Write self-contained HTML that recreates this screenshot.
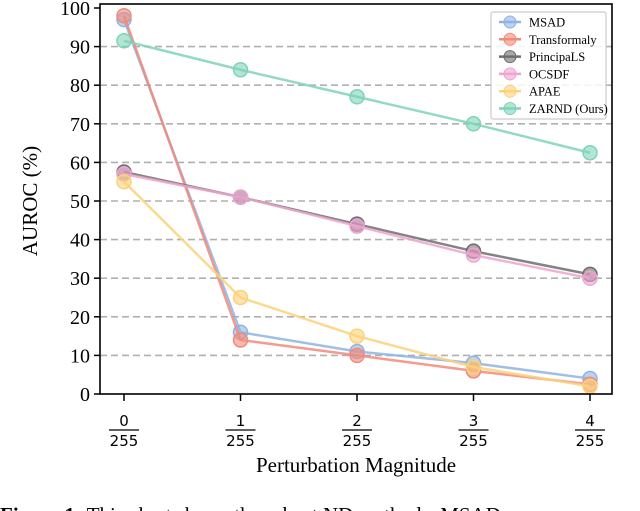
<!DOCTYPE html>
<html><head><meta charset="utf-8"><style>
body{margin:0;background:#fff;width:640px;height:511px;overflow:hidden}
svg{display:block;font-family:"Liberation Serif",serif}
</style></head><body>
<svg id="chart" width="640" height="511" viewBox="0 0 640 511">
<g id="grid"></g><g id="series"></g><g id="axes"></g><g id="legend"></g>
<text x="356" y="472" font-size="21" text-anchor="middle">Perturbation Magnitude</text>
<text transform="translate(37,201) rotate(-90)" font-size="21" text-anchor="middle">AUROC (%)</text>
<text x="0" y="522" font-size="21"><tspan font-weight="bold">Figure 1:</tspan>  This chart shows the robust ND methods. MSAD</text>
</svg>
<script>
const categories=[0,1,2,3,4];
const seriesNames=["MSAD","Transformaly","PrincipaLS","OCSDF","APAE","ZARND (Ours)"];
const colors=["#8fb4e3","#f28a7a","#6e6e6e","#eea4d0","#fcd27a","#7fd3b7"];
const msad=[97,16,11,8,4];
const transformaly=[98,14,10,6,2.5];
const principals=[57.5,51,44,37,31];
const ocsdf=[57,51,43.5,36,30];
const apae=[55,25,15,7,2];
const zarnd=[91.5,84,77,70,62.5];
const yTicks=[0,10,20,30,40,50,60,70,80,90,100];
const allSeries=[msad,transformaly,principals,ocsdf,apae,zarnd];
const NS="http://www.w3.org/2000/svg";
const L=100,R=612,T=8,B=394;
const x=i=>124+i*(590-124)/4;
const y=v=>B-(v/100)*(B-T);
function mk(tag,attrs,parent){const e=document.createElementNS(NS,tag);for(const k in attrs)e.setAttribute(k,attrs[k]);parent.appendChild(e);return e;}
const grid=document.getElementById('grid'),axes=document.getElementById('axes'),ser=document.getElementById('series'),leg=document.getElementById('legend');
yTicks.forEach(t=>{
 if(t>0&&t<100){const g=mk('line',{x1:L,x2:R,y1:y(t),y2:y(t),stroke:'#b0b0b0','stroke-width':1.6,'stroke-dasharray':'7,4'},grid);
 
 }
 const tk=mk('line',{x1:L-6,x2:L,y1:y(t),y2:y(t),stroke:'#000','stroke-width':1.5},axes);
 
 
 const lb=mk('text',{x:L-10,y:y(t)+7,'font-size':20,'text-anchor':'end'},axes);lb.textContent=t;
 
 
});
categories.forEach((c,i)=>{
 const tk=mk('line',{x1:x(i),x2:x(i),y1:B,y2:B+7,stroke:'#000','stroke-width':1.5},axes);
 
 
 const g=mk('g',{},axes);
 
 
 const n=mk('text',{x:x(i),y:B+32,'font-size':15,'text-anchor':'middle','font-family':'DejaVu Sans, sans-serif'},g);n.textContent=c;
 mk('line',{x1:x(i)-15,x2:x(i)+15,y1:B+36,y2:B+36,stroke:'#000','stroke-width':1.3},g);
 const d=mk('text',{x:x(i),y:B+52,'font-size':15,'text-anchor':'middle','font-family':'DejaVu Sans, sans-serif'},g);d.textContent='255';
});
const frame=mk('rect',{x:L,y:T-4,width:R-L,height:B-T+4,fill:'none',stroke:'#000','stroke-width':1.6},axes);


allSeries.forEach((s,k)=>{
 const g=mk('g',{},ser);
 
 
 mk('polyline',{points:s.map((v,i)=>x(i)+','+y(v)).join(' '),fill:'none',stroke:colors[k],'stroke-width':2.5,'stroke-opacity':0.85},g);
 s.forEach((v,i)=>{const c=mk('circle',{cx:x(i),cy:y(v),r:7,fill:colors[k],'fill-opacity':0.6,stroke:colors[k],'stroke-width':1.5},g);
 
 });
});
const lb=mk('rect',{x:491,y:12,width:115,height:107,fill:'#fff','fill-opacity':0.85,stroke:'#ccc','stroke-width':1.2,rx:2},leg);


seriesNames.forEach((n,k)=>{
 const yy=22+k*17.3;
 const g=mk('g',{},leg);
 
 
 mk('line',{x1:499,x2:521,y1:yy,y2:yy,stroke:colors[k],'stroke-width':2.5},g);
 mk('circle',{cx:510,cy:yy,r:6,fill:colors[k],'fill-opacity':0.6,stroke:colors[k]},g);
 const t=mk('text',{x:529,y:yy+4.5,'font-size':12.5},g);t.textContent=n;
});
</script>
</body></html>
